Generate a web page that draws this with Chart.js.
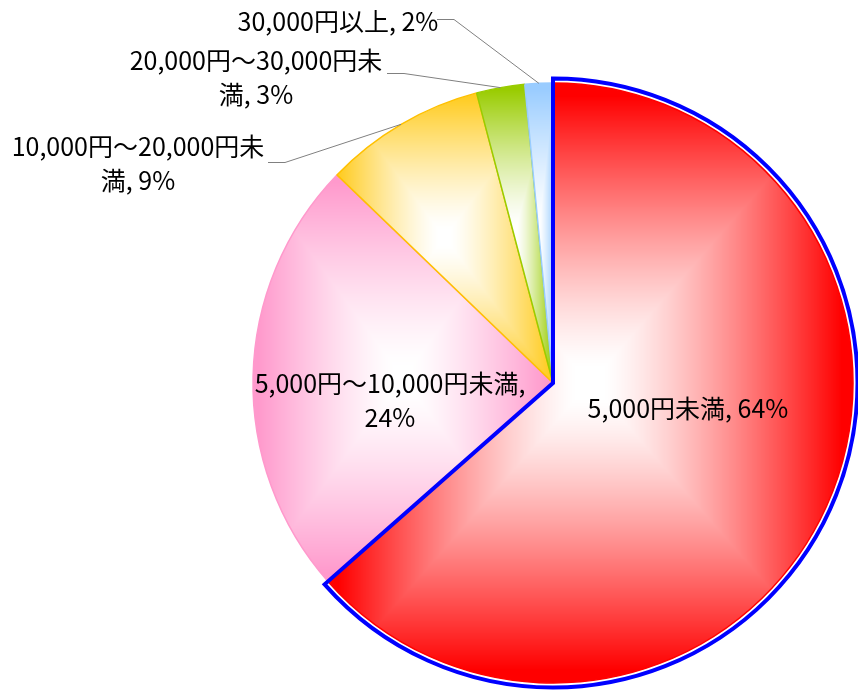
<!DOCTYPE html>
<html><head><meta charset="utf-8">
<script src="https://cdn.jsdelivr.net/npm/chart.js@4.4.1/dist/chart.umd.min.js"></script>
<style>html,body{margin:0;padding:0;background:#fff;}canvas{display:block}</style>
</head><body>
<canvas id="c" width="858" height="692"></canvas>
<script>
// ---- data ----
const categories = ['5,000円未満', '5,000円～10,000円未満', '10,000円～20,000円未満', '20,000円～30,000円未満', '30,000円以上'];
const shares = [63.5, 23.7, 8.7, 2.6, 1.5];
const sliceColors = ['#FF0000', '#FF99CC', '#FFCC22', '#99CC00', '#99CCFF'];
const edgeColors = ['#FF0000', '#FF99CC', '#FFC000', '#99CC00', '#99CCFF'];

// ---- label layout (offsets relative to pie centre) ----
const labelLayout = [
  {dx: 135, dy: 25, breakAt: 0},
  {dx: -163, dy: 17, breakAt: 17},
  {dx: -415, dy: -220, breakAt: 16, leader: [-285, -221]},
  {dx: -297, dy: -306, breakAt: 16, leader: [-166, -310]},
  {dx: -215, dy: -362, breakAt: 0, leader: [-116, -364]}
];
const FONT = '25px "Noto Sans CJK JP", "Noto Sans", sans-serif';
const LINE_H = 34;

function hexRgb(h){h=h.replace('#','');return [0,2,4].map(i=>parseInt(h.substr(i,2),16));}
const patCache = {};
function pathGradient(ctx, arc, color, idx){
  const {x, y, startAngle, endAngle, outerRadius: r} = arc;
  const xs=[x], ys=[y];
  const angs=[startAngle, endAngle];
  for(let k=-2;k<=4;k++){const a=k*Math.PI/2; if(a>startAngle && a<endAngle) angs.push(a);}
  angs.forEach(a=>{xs.push(x+r*Math.cos(a)); ys.push(y+r*Math.sin(a));});
  const x0=Math.floor(Math.min(...xs))-2, x1=Math.ceil(Math.max(...xs))+2;
  const y0=Math.floor(Math.min(...ys))-2, y1=Math.ceil(Math.max(...ys))+2;
  const key=[idx,x0,x1,y0,y1].join('_');
  if(patCache[key]) return patCache[key];
  const W=x1-x0, H=y1-y0;
  const off=document.createElement('canvas'); off.width=W; off.height=H;
  const octx=off.getContext('2d'); const img=octx.createImageData(W,H);
  const [R,G,B]=hexRgb(color);
  const cx=W/2, cy=H/2;
  for(let j=0;j<H;j++){for(let i=0;i<W;i++){
    let t=Math.max(Math.abs(i+0.5-cx)/cx, Math.abs(j+0.5-cy)/cy);
    t=Math.min(1,Math.max(0,(t-0.05)/0.9));
    const m=Math.pow(t,1.3);
    const p=(j*W+i)*4;
    img.data[p]=255+(R-255)*m; img.data[p+1]=255+(G-255)*m; img.data[p+2]=255+(B-255)*m; img.data[p+3]=255;
  }}
  octx.putImageData(img,0,0);
  const pat=ctx.createPattern(off,'no-repeat');
  pat.setTransform(new DOMMatrix([1,0,0,1,x0,y0]));
  patCache[key]=pat;
  return pat;
}

const decorPlugin = {
  id: 'decor',
  afterDatasetsDraw(chart){
    const ctx=chart.ctx;
    const arcs=chart.getDatasetMeta(0).data;
    // blue selection outline on the first slice
    const a=arcs[0];
    ctx.save();
    ctx.beginPath();
    ctx.moveTo(a.x, a.y);
    ctx.arc(a.x, a.y, a.outerRadius+4.5, a.startAngle, a.endAngle);
    ctx.closePath();
    ctx.strokeStyle='#0000FF'; ctx.lineWidth=4; ctx.lineJoin='miter';
    ctx.stroke();
    ctx.restore();
  },
  afterDraw(chart){
    const ctx=chart.ctx;
    const arcs=chart.getDatasetMeta(0).data;
    ctx.save();
    ctx.font=FONT; ctx.fillStyle='#000'; ctx.textAlign='center'; ctx.textBaseline='middle';
    arcs.forEach((arc,i)=>{
      const L=labelLayout[i];
      const cxp=arc.x, cyp=arc.y;
      const full=categories[i]+', '+Math.round(shares[i])+'%';
      let lines=[full];
      if(L.breakAt){lines=[full.slice(0,L.breakAt), full.slice(L.breakAt).trim()];}
      const bx=cxp+L.dx, by=cyp+L.dy;
      const top=by-(lines.length-1)*LINE_H/2;
      lines.forEach((s,k)=>ctx.fillText(s,bx,top+k*LINE_H));
      if(L.leader){
        const mid=(arc.startAngle+arc.endAngle)/2;
        const ex=arc.x+arc.outerRadius*Math.cos(mid), ey=arc.y+arc.outerRadius*Math.sin(mid);
        const sx=cxp+L.leader[0], sy=cyp+L.leader[1];
        ctx.beginPath();
        ctx.moveTo(sx,sy+0.5); ctx.lineTo(sx+17,sy+0.5); ctx.lineTo(ex,ey);
        ctx.strokeStyle='#808080'; ctx.lineWidth=1; ctx.stroke();
      }
    });
    ctx.restore();
  }
};

const chart = new Chart(document.getElementById('c'), {
  type: 'pie',
  data: {
    labels: categories,
    datasets: [{
      data: shares,
      backgroundColor: (c)=>{
        const arc=c.chart.getDatasetMeta(0).data[c.dataIndex];
        if(!arc || !arc.outerRadius) return sliceColors[c.dataIndex];
        return pathGradient(c.chart.ctx, arc, sliceColors[c.dataIndex], c.dataIndex);
      },
      borderColor: edgeColors,
      borderWidth: [1.5, 1.5, 1.5, 1.5, 1.5]
    }]
  },
  options: {
    responsive: false,
    animation: false,
    radius: 300,
    layout: {padding: {left: 248, right: 0, top: 74, bottom: 0}},
    plugins: {legend: {display: false}, tooltip: {enabled: false}, title: {display: false}},
    events: []
  },
  plugins: [decorPlugin]
});
chart.update('none');
</script>
</body></html>
